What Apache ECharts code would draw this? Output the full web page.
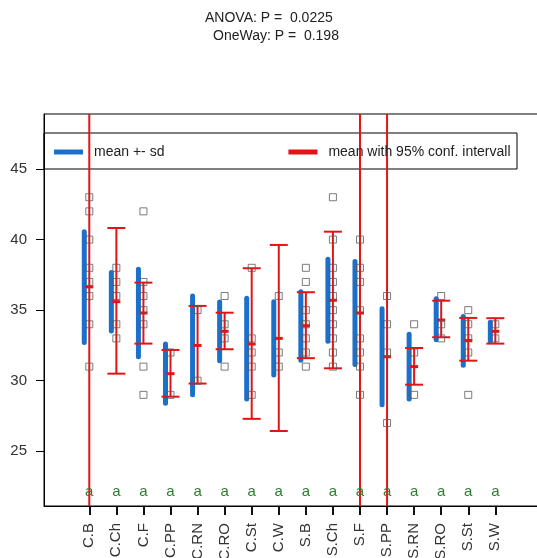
<!DOCTYPE html>
<html>
<head>
<meta charset="utf-8">
<script src="https://cdn.jsdelivr.net/npm/echarts@6/dist/echarts.min.js"></script>
<style>
  html, body { margin: 0; padding: 0; background: #fff; }
  #chart { width: 537px; height: 558px; }
</style>
</head>
<body>
<div id="chart"></div>
<script>
// Groups along the x axis
const categories = ['C.B','C.Ch','C.F','C.PP','C.RN','C.RO','C.St','C.W',
                    'S.B','S.Ch','S.F','S.PP','S.RN','S.RO','S.St','S.W'];

// Group means
const means  = [36.65, 35.6, 34.8, 30.5, 32.5, 33.5, 32.6, 33.0,
                33.9, 35.7, 34.8, 31.7, 31.0, 34.3, 32.85, 33.5];

// mean - sd and mean + sd
const sdLow  = [32.7, 33.53, 31.7, 28.4, 29.0, 31.42, 28.7, 30.4,
                31.45, 32.8, 31.15, 28.3, 28.7, 32.9, 31.1, 32.8];
const sdHigh = [40.55, 37.67, 37.9, 32.6, 36.0, 35.58, 35.85, 35.6,
                36.3, 38.6, 38.45, 35.1, 33.3, 35.8, 34.55, 34.15];

// 95% confidence limits (C.B, S.F and S.PP run far past the plot region)
const ciLow  = [-50, 30.5, 32.63, 28.87, 29.8, 32.23, 27.3, 26.44,
                31.6, 30.88, -50, -50, 29.72, 33.08, 31.42, 32.63];
const ciHigh = [120, 40.82, 36.95, 32.18, 35.3, 34.82, 37.97, 39.62,
                36.27, 40.56, 120, 120, 32.32, 35.67, 34.45, 34.43];

// Individual observations per group
const observations = [
  [43, 42, 40, 38, 37, 36, 34, 31],
  [38, 37, 36, 34, 33],
  [42, 37, 36, 35, 34, 31, 29],
  [32, 29],
  [35, 30],
  [36, 34, 33, 31],
  [38, 33, 32, 31, 29],
  [36, 32, 31],
  [38, 37, 35, 34, 33, 32, 31],
  [43, 40, 38, 37, 36, 35, 34, 33, 32, 31],
  [40, 38, 37, 35, 33, 32, 31, 29],
  [36, 34, 32, 27],
  [34, 32, 29],
  [36, 34, 33],
  [35, 34, 33, 32, 29],
  [34, 33]
];

// Post-hoc grouping letters
const letters = ['a','a','a','a','a','a','a','a','a','a','a','a','a','a','a','a'];

// Y tick labels
const yTicks = [25, 30, 35, 40, 45];

const titleLines = ['ANOVA: P =  0.0225', 'OneWay: P =  0.198'];
const SD_NAME = 'mean +- sd';
const CI_NAME = 'mean with 95% conf. intervall';

const BLUE = '#1a70cb';
const RED = '#e31414';
const GREEN = '#2f7d2f';
const FONT = 'Liberation Sans, Arial, sans-serif';
const LETTER_Y = 22.1;
const Y_MIN = 21.125, Y_MAX = 48.897;

const xs = categories.map((c, i) => i + 1);

const sdData = xs.map((x, i) => [x, sdLow[i], sdHigh[i]]);
const ciData = xs.map((x, i) => [x, means[i], ciLow[i], ciHigh[i]]);
const pointData = [];
observations.forEach((vals, i) => vals.forEach(v => pointData.push([xs[i], v])));
const letterData = xs.map((x, i) => [x, LETTER_Y, letters[i]]);

const chart = echarts.init(document.getElementById('chart'), null, { renderer: 'canvas' });

chart.setOption({
  animation: false,
  backgroundColor: '#fff',
  textStyle: { fontFamily: FONT },
  title: [
    { text: titleLines[0], left: 205, top: 11, padding: 0,
      textStyle: { fontSize: 14, fontWeight: 'normal', color: '#222', fontFamily: FONT } },
    { text: titleLines[1], left: 213, top: 29, padding: 0,
      textStyle: { fontSize: 14, fontWeight: 'normal', color: '#222', fontFamily: FONT } }
  ],
  legend: {
    left: 54, top: 144, padding: 0,
    itemWidth: 29, itemHeight: 5, itemGap: 124,
    textStyle: { fontSize: 14, color: '#222', fontFamily: FONT, padding: [0, 0, 0, 6], lineHeight: 16 },
    data: [
      { name: SD_NAME, icon: 'rect', itemStyle: { color: BLUE } },
      { name: CI_NAME, icon: 'rect', itemStyle: { color: RED } }
    ],
    selectedMode: false
  },
  graphic: [
    { type: 'rect', shape: { x: 44, y: 133, width: 473, height: 36 },
      style: { fill: 'none', stroke: '#000', lineWidth: 1 }, z: 1, silent: true }
  ],
  grid: {
    left: 44, top: 114, width: 496, height: 392,
    outerBoundsMode: 'none',
    show: true, borderColor: '#000', borderWidth: 1
  },
  xAxis: {
    type: 'value', min: -0.673, max: 17.65,
    splitLine: { show: false },
    axisLine: { show: true, onZero: false, lineStyle: { color: '#000', width: 1 } },
    axisTick: { show: true, length: 9, customValues: xs, lineStyle: { color: '#111', width: 2 } },
    axisLabel: {
      customValues: xs, rotate: 90, margin: 17, fontSize: 15, color: '#333', fontFamily: FONT,
      formatter: v => categories[Math.round(v) - 1] || ''
    }
  },
  yAxis: {
    type: 'value', min: Y_MIN, max: Y_MAX,
    splitLine: { show: false },
    axisLine: { show: true, onZero: false, lineStyle: { color: '#000', width: 1 } },
    axisTick: { show: true, length: 8, customValues: yTicks, lineStyle: { color: '#000' } },
    axisLabel: { customValues: yTicks, margin: 17, fontSize: 15, color: '#333', fontFamily: FONT }
  },
  series: [
    {
      name: SD_NAME, type: 'custom', clip: true, z: 2,
      itemStyle: { color: BLUE },
      data: sdData,
      renderItem: (params, api) => {
        const x = api.value(0);
        const a = api.coord([x, api.value(2)]);
        const b = api.coord([x, api.value(1)]);
        return {
          type: 'line',
          shape: { x1: a[0] - 5, y1: a[1], x2: b[0] - 5, y2: b[1] },
          style: { stroke: BLUE, lineWidth: 5, lineCap: 'round' }
        };
      }
    },
    {
      name: CI_NAME, type: 'custom', clip: true, z: 3,
      itemStyle: { color: RED },
      data: ciData,
      renderItem: (params, api) => {
        const x = api.value(0);
        const pm = api.coord([x, api.value(1)]);
        const pl = api.coord([x, api.value(2)]);
        const ph = api.coord([x, api.value(3)]);
        const cap = 9, tick = 4;
        const st = { stroke: RED, lineWidth: 2 };
        return {
          type: 'group',
          children: [
            { type: 'line', shape: { x1: pl[0], y1: pl[1], x2: ph[0], y2: ph[1] }, style: st },
            { type: 'line', shape: { x1: pl[0] - cap, y1: pl[1], x2: pl[0] + cap, y2: pl[1] }, style: st },
            { type: 'line', shape: { x1: ph[0] - cap, y1: ph[1], x2: ph[0] + cap, y2: ph[1] }, style: st },
            { type: 'line', shape: { x1: pm[0] - tick, y1: pm[1], x2: pm[0] + tick, y2: pm[1] },
              style: { stroke: RED, lineWidth: 3 } }
          ]
        };
      }
    },
    {
      name: 'obs', type: 'scatter', z: 4,
      symbol: 'rect', symbolSize: 7,
      itemStyle: { color: 'rgba(255,255,255,0)', borderColor: '#5a5a5a', borderWidth: 1 },
      data: pointData
    },
    {
      name: 'letters', type: 'custom', z: 4,
      data: letterData,
      renderItem: (params, api) => {
        const p = api.coord([api.value(0), api.value(1)]);
        return {
          type: 'text',
          style: {
            x: p[0], y: p[1], text: letters[params.dataIndex],
            fill: GREEN, font: '15px ' + FONT, align: 'center', verticalAlign: 'middle'
          }
        };
      }
    }
  ]
});
</script>
</body>
</html>
